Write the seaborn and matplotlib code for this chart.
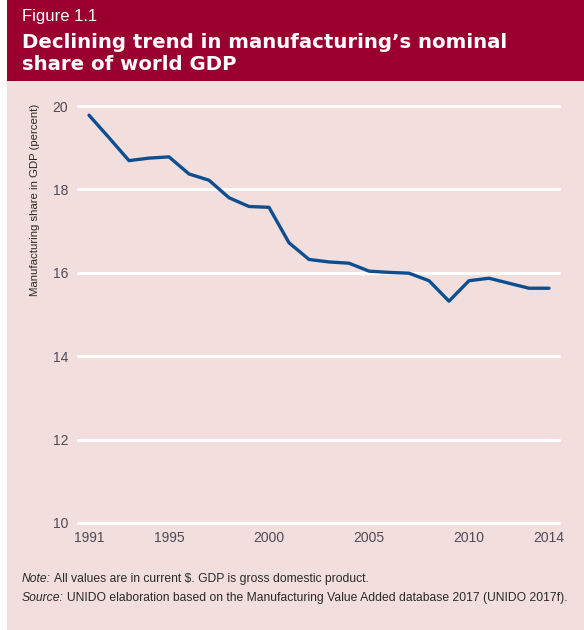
import matplotlib
matplotlib.use("Agg")
import matplotlib.pyplot as plt
from matplotlib.patches import Rectangle
import seaborn as sns
import pandas as pd

years = list(range(1991, 2015))
share = [19.78, 19.24, 18.69, 18.75, 18.78, 18.37, 18.22, 17.80, 17.59, 17.57,
         16.72, 16.32, 16.26, 16.23, 16.04, 16.01, 15.99, 15.81, 15.32, 15.81,
         15.87, 15.75, 15.63, 15.63]
y_ticks = [10, 12, 14, 16, 18, 20]
x_ticks = [1991, 1995, 2000, 2005, 2010, 2014]

df = pd.DataFrame({"year": years, "share": share})

BG = "#F2DEDC"
HEADER = "#990030"
LINE = "#0B4F92"
TICK_COLOR = "#4f4a58"
TEXT = "#2a2a2a"

sns.set_theme(style="white")
plt.rcParams["font.family"] = ["Liberation Sans", "DejaVu Sans"]

W, H = 584, 630
fig = plt.figure(figsize=(W / 100, H / 100), dpi=100)
fig.patch.set_facecolor("white")

def px_rect(x0, y0, x1, y1, color):
    fig.patches.append(Rectangle((x0 / W, 1 - y1 / H), (x1 - x0) / W, (y1 - y0) / H,
                                 transform=fig.transFigure, facecolor=color,
                                 edgecolor="none", zorder=-10))

px_rect(7, 0, W, 81, HEADER)
px_rect(7, 81, W, H, BG)

fig.text(22 / W, 1 - 17 / H, "Figure 1.1", color="white", fontsize=12,
         va="center", ha="left")
fig.text(22 / W, 1 - 42 / H, "Declining trend in manufacturing\u2019s nominal",
         color="white", fontsize=14.2, fontweight="heavy", va="center", ha="left",
         family=["DejaVu Sans"])
fig.text(22 / W, 1 - 64 / H, "share of world GDP",
         color="white", fontsize=14.2, fontweight="heavy", va="center", ha="left",
         family=["DejaVu Sans"])

ax = fig.add_axes([78 / W, 1 - 523 / H, (559 - 78) / W, (523 - 106) / H])
ax.set_facecolor("none")

for t in y_ticks:
    ax.axhline(t, color="white", lw=2.2, zorder=1, clip_on=False)

sns.lineplot(data=df, x="year", y="share", ax=ax, color=LINE, lw=2.4,
             zorder=3, clip_on=False)

ax.set_xlim(1990.45, 2014.5)
ax.set_ylim(10, 20)
ax.set_xticks(x_ticks)
ax.set_yticks(y_ticks)
ax.set_xticklabels([str(v) for v in x_ticks], fontsize=10, color=TICK_COLOR)
ax.set_yticklabels([str(v) for v in y_ticks], fontsize=10, color=TICK_COLOR)
ax.tick_params(axis="both", length=0)
ax.tick_params(axis="x", pad=6)
ax.tick_params(axis="y", pad=7)
for s in ax.spines.values():
    s.set_visible(False)
ax.set_xlabel("")
ax.set_ylabel("")

fig.text(35 / W, 1 - 200 / H, "Manufacturing share in GDP (percent)",
         rotation=90, va="center", ha="center", fontsize=8.2, color=TEXT)

renderer = fig.canvas.get_renderer()

def note_line(y_px, prefix, body, size=8.7):
    t = fig.text(22 / W, 1 - y_px / H, prefix, fontsize=size, style="italic",
                 color=TEXT, va="center", ha="left")
    bb = t.get_window_extent(renderer=renderer)
    fig.text((bb.x1 + 3) / W, 1 - y_px / H, body, fontsize=size,
             color=TEXT, va="center", ha="left")

note_line(579, "Note:", "All values are in current $. GDP is gross domestic product.")
note_line(598, "Source:",
          "UNIDO elaboration based on the Manufacturing Value Added database 2017 (UNIDO 2017f).")

fig.savefig("out.png", dpi=100, facecolor=fig.get_facecolor())
